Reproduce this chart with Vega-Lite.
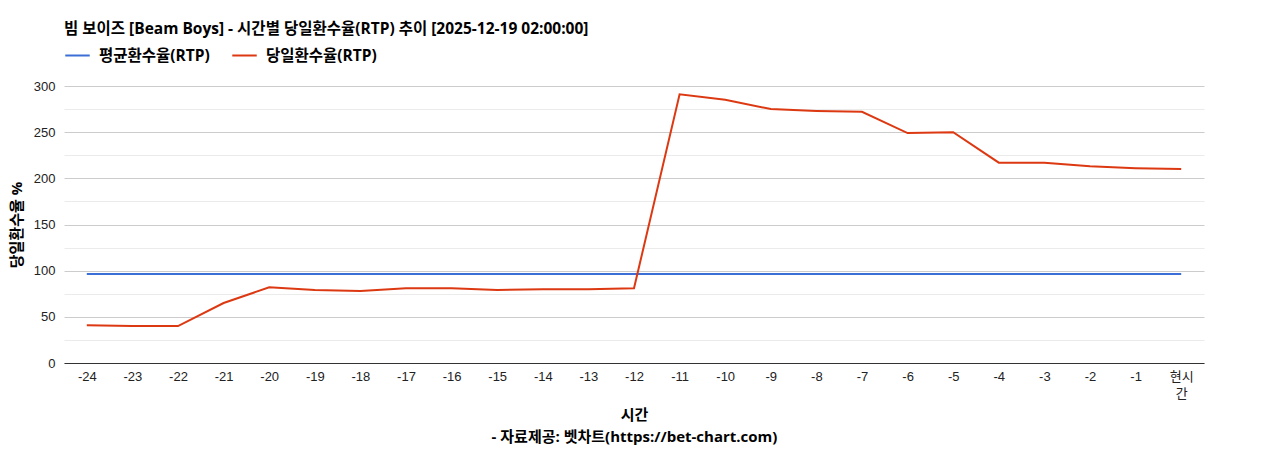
{
  "$schema": "https://vega.github.io/schema/vega-lite/v6.json",
  "width": 1140,
  "height": 277,
  "autosize": {"type": "none"},
  "padding": {"left": 64, "top": 86, "right": 64, "bottom": 87},
  "background": "white",
  "title": {
    "text": "빔 보이즈 [Beam Boys] - 시간별 당일환수율(RTP) 추이 [2025-12-19 02:00:00]",
    "anchor": "start",
    "frame": "group",
    "font": "Open Sans, Noto Sans CJK KR",
    "fontSize": 15.5,
    "fontWeight": "bold",
    "color": "#000000",
    "offset": 5
  },
  "data": {
    "values": [
      {"hour": "-24", "series": "평균환수율(RTP)", "rtp": 96.5},
      {"hour": "-23", "series": "평균환수율(RTP)", "rtp": 96.5},
      {"hour": "-22", "series": "평균환수율(RTP)", "rtp": 96.5},
      {"hour": "-21", "series": "평균환수율(RTP)", "rtp": 96.5},
      {"hour": "-20", "series": "평균환수율(RTP)", "rtp": 96.5},
      {"hour": "-19", "series": "평균환수율(RTP)", "rtp": 96.5},
      {"hour": "-18", "series": "평균환수율(RTP)", "rtp": 96.5},
      {"hour": "-17", "series": "평균환수율(RTP)", "rtp": 96.5},
      {"hour": "-16", "series": "평균환수율(RTP)", "rtp": 96.5},
      {"hour": "-15", "series": "평균환수율(RTP)", "rtp": 96.5},
      {"hour": "-14", "series": "평균환수율(RTP)", "rtp": 96.5},
      {"hour": "-13", "series": "평균환수율(RTP)", "rtp": 96.5},
      {"hour": "-12", "series": "평균환수율(RTP)", "rtp": 96.5},
      {"hour": "-11", "series": "평균환수율(RTP)", "rtp": 96.5},
      {"hour": "-10", "series": "평균환수율(RTP)", "rtp": 96.5},
      {"hour": "-9", "series": "평균환수율(RTP)", "rtp": 96.5},
      {"hour": "-8", "series": "평균환수율(RTP)", "rtp": 96.5},
      {"hour": "-7", "series": "평균환수율(RTP)", "rtp": 96.5},
      {"hour": "-6", "series": "평균환수율(RTP)", "rtp": 96.5},
      {"hour": "-5", "series": "평균환수율(RTP)", "rtp": 96.5},
      {"hour": "-4", "series": "평균환수율(RTP)", "rtp": 96.5},
      {"hour": "-3", "series": "평균환수율(RTP)", "rtp": 96.5},
      {"hour": "-2", "series": "평균환수율(RTP)", "rtp": 96.5},
      {"hour": "-1", "series": "평균환수율(RTP)", "rtp": 96.5},
      {"hour": "현시간", "series": "평균환수율(RTP)", "rtp": 96.5},
      {"hour": "-24", "series": "당일환수율(RTP)", "rtp": 41},
      {"hour": "-23", "series": "당일환수율(RTP)", "rtp": 40},
      {"hour": "-22", "series": "당일환수율(RTP)", "rtp": 40},
      {"hour": "-21", "series": "당일환수율(RTP)", "rtp": 65},
      {"hour": "-20", "series": "당일환수율(RTP)", "rtp": 82},
      {"hour": "-19", "series": "당일환수율(RTP)", "rtp": 79},
      {"hour": "-18", "series": "당일환수율(RTP)", "rtp": 78},
      {"hour": "-17", "series": "당일환수율(RTP)", "rtp": 81},
      {"hour": "-16", "series": "당일환수율(RTP)", "rtp": 81},
      {"hour": "-15", "series": "당일환수율(RTP)", "rtp": 79},
      {"hour": "-14", "series": "당일환수율(RTP)", "rtp": 80},
      {"hour": "-13", "series": "당일환수율(RTP)", "rtp": 80},
      {"hour": "-12", "series": "당일환수율(RTP)", "rtp": 81},
      {"hour": "-11", "series": "당일환수율(RTP)", "rtp": 291},
      {"hour": "-10", "series": "당일환수율(RTP)", "rtp": 285},
      {"hour": "-9", "series": "당일환수율(RTP)", "rtp": 275},
      {"hour": "-8", "series": "당일환수율(RTP)", "rtp": 273},
      {"hour": "-7", "series": "당일환수율(RTP)", "rtp": 272},
      {"hour": "-6", "series": "당일환수율(RTP)", "rtp": 249},
      {"hour": "-5", "series": "당일환수율(RTP)", "rtp": 250},
      {"hour": "-4", "series": "당일환수율(RTP)", "rtp": 217},
      {"hour": "-3", "series": "당일환수율(RTP)", "rtp": 217},
      {"hour": "-2", "series": "당일환수율(RTP)", "rtp": 213},
      {"hour": "-1", "series": "당일환수율(RTP)", "rtp": 211},
      {"hour": "현시간", "series": "당일환수율(RTP)", "rtp": 210}
    ]
  },
  "mark": {"type": "line", "strokeWidth": 2, "interpolate": "linear"},
  "encoding": {
    "x": {
      "field": "hour",
      "type": "ordinal",
      "sort": null,
      "scale": {"type": "point", "padding": 0.5},
      "axis": {
        "title": ["시간", "- 자료제공: 벳차트(https://bet-chart.com)"],
        "titleFont": "Open Sans, Noto Sans CJK KR",
        "titleFontSize": 15,
        "titleFontWeight": "bold",
        "titleColor": "#000000",
        "titleLineHeight": 22,
        "titlePadding": 7,
        "labelAngle": 0,
        "labelFont": "Liberation Sans, Noto Sans CJK KR",
        "labelFontSize": 13,
        "labelColor": "#222222",
        "labelPadding": 7,
        "labelLineHeight": 17,
        "labelExpr": "datum.value == '현시간' ? ['현시', '간'] : datum.label",
        "ticks": false,
        "grid": false,
        "domainColor": "#333333",
        "domainWidth": 1
      }
    },
    "y": {
      "field": "rtp",
      "type": "quantitative",
      "scale": {"domain": [0, 300], "nice": false},
      "axis": {
        "title": "당일환수율 %",
        "titleFont": "Open Sans, Noto Sans CJK KR",
        "titleFontSize": 15,
        "titleFontWeight": "bold",
        "titleColor": "#000000",
        "titlePadding": 9,
        "values": [0, 25, 50, 75, 100, 125, 150, 175, 200, 225, 250, 275, 300],
        "labelExpr": "datum.value % 50 == 0 ? datum.label : ''",
        "labelFont": "Liberation Sans",
        "labelFontSize": 13,
        "labelColor": "#222222",
        "labelPadding": 9,
        "ticks": false,
        "domain": false,
        "gridColor": {"condition": {"test": "datum.value % 50 == 0", "value": "#cccccc"}, "value": "#ebebeb"}
      }
    },
    "color": {
      "field": "series",
      "type": "nominal",
      "sort": ["평균환수율(RTP)", "당일환수율(RTP)"],
      "scale": {"domain": ["평균환수율(RTP)", "당일환수율(RTP)"], "range": ["#3b6ed6", "#dc3912"]},
      "legend": {
        "title": null,
        "orient": "top",
        "direction": "horizontal",
        "offset": 22,
        "symbolType": "stroke",
        "symbolSize": 600,
        "symbolStrokeWidth": 2,
        "labelFont": "Open Sans, Noto Sans CJK KR",
        "labelFontSize": 15.5,
        "labelFontWeight": "bold",
        "labelColor": "#000000",
        "columnPadding": 18,
        "labelOffset": 8
      }
    }
  },
  "config": {"view": {"stroke": null}}
}
